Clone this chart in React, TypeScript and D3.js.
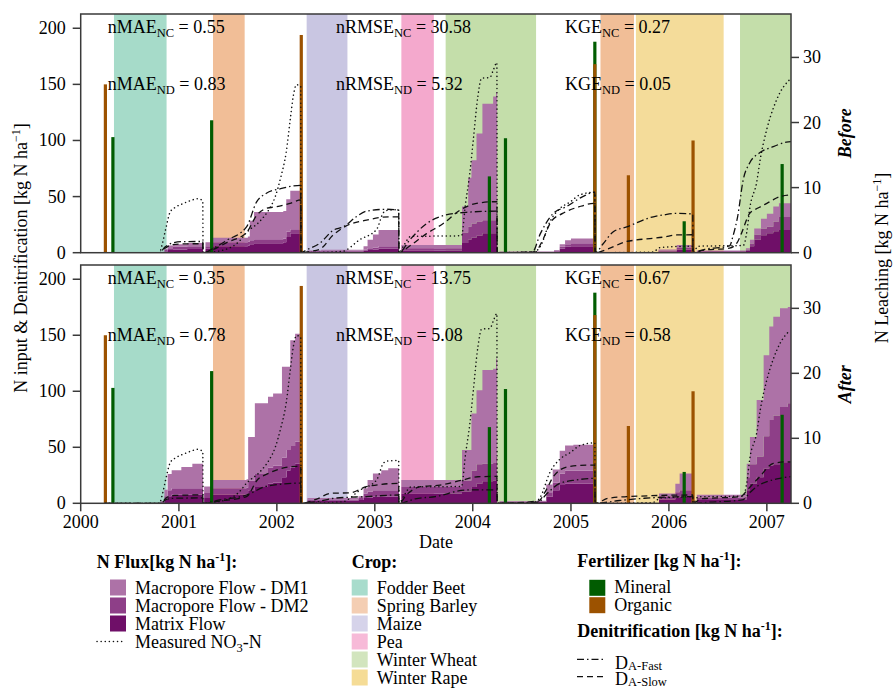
import React from "react";
import * as d3 from "d3";

const W = 893, H = 688;
const X0 = 80.7, X1 = 791;
const PANELS = [
  { top: 14, bottom: 252.7, name: "Before" },
  { top: 265, bottom: 503.3, name: "After" },
];

// ---------- DATA ----------
const yearTicks = ["2000", "2001", "2002", "2003", "2004", "2005", "2006", "2007"];
const leftTicks = [0, 50, 100, 150, 200];
const rightTicks = [0, 10, 20, 30];

const cropNames = ["Fodder Beet", "Spring Barley", "Maize", "Pea", "Winter Wheat", "Winter Rape"];
const cropBandColors = ["#a6dbc9", "#f1be97", "#c9c6e2", "#f4a9cd", "#c4deaa", "#f4dc9a"];
const cropLegendColors = ["#a8dccc", "#f4ceb3", "#d6d3ea", "#f7bad8", "#d2e5be", "#f5dc96"];
const cropPeriods: [string, string, string][] = [
  ["Fodder Beet", "2000-05-04", "2000-11-16"],
  ["Spring Barley", "2001-05-08", "2001-09-03"],
  ["Maize", "2002-04-22", "2002-09-21"],
  ["Pea", "2003-04-10", "2003-08-09"],
  ["Winter Wheat", "2003-09-22", "2004-08-24"],
  ["Spring Barley", "2005-04-21", "2005-08-24"],
  ["Winter Rape", "2005-08-31", "2006-07-24"],
  ["Winter Wheat", "2006-09-23", "2007-04-01"],
];

const fluxNames = ["Macropore Flow - DM1", "Macropore Flow - DM2", "Matrix Flow"];
const fluxColors = ["#ad72a7", "#8e3f88", "#6f0f68"];
const fertNames = ["Mineral", "Organic"];
const fertColors = ["#015c01", "#9c5200"];

const fertMineral: [string, number][] = [
  ["2000-04-30", 103], ["2001-05-03", 118], ["2004-03-03", 68], ["2004-05-02", 102],
  ["2005-03-31", 188], ["2006-02-27", 28], ["2007-02-27", 79],
];
const fertOrganic: [string, number][] = [
  ["2000-04-02", 150], ["2002-04-02", 194], ["2005-03-31", 168], ["2005-08-03", 69], ["2006-04-01", 100],
];

const measuredNO3: [string, number][] = [
  ["2000-04-01", 0], ["2000-10-20", 0], ["2000-11-01", 1.5], ["2000-11-12", 3.5], ["2000-11-30", 6.3],
  ["2000-12-20", 7.0], ["2001-01-20", 7.6], ["2001-02-20", 8.1], ["2001-03-10", 8.3], ["2001-03-31", 8.0],
  ["2001-04-01", 0], ["2001-06-15", 0.4], ["2001-08-15", 1.8], ["2001-09-10", 3.1], ["2001-10-29", 4.8],
  ["2001-12-05", 6.8], ["2001-12-25", 8.5], ["2002-01-15", 11.5], ["2002-02-05", 15.5], ["2002-02-20", 20.5],
  ["2002-03-03", 24], ["2002-03-15", 25.8], ["2002-03-31", 25.6],
  ["2002-04-01", 0], ["2002-09-01", 0.2], ["2002-11-06", 2.0], ["2003-01-08", 3.6], ["2003-02-01", 6.1],
  ["2003-02-15", 6.5], ["2003-03-31", 6.6],
  ["2003-04-01", 0], ["2003-04-20", 1.2], ["2003-05-15", 2.5], ["2003-11-20", 2.6], ["2003-12-05", 7.5],
  ["2003-12-21", 12.2], ["2004-01-03", 17.3], ["2004-01-20", 24.0], ["2004-02-03", 26.8], ["2004-03-05", 26.9],
  ["2004-03-17", 28.0], ["2004-03-31", 29.2],
  ["2004-04-01", 0], ["2004-08-20", 0.2], ["2004-09-08", 0.9], ["2004-10-15", 4.8], ["2004-11-21", 6.8],
  ["2004-12-29", 7.8], ["2005-02-04", 8.9], ["2005-03-31", 9.3],
  ["2005-04-01", 0], ["2005-11-01", 0.1], ["2005-12-01", 0.8], ["2006-03-31", 1.0],
  ["2006-04-01", 0], ["2006-04-20", 1.0], ["2006-10-05", 1.1], ["2006-10-18", 3.1], ["2006-10-30", 7.0],
  ["2006-11-24", 10.8], ["2006-12-08", 14.5], ["2007-01-01", 19], ["2007-01-25", 22.2], ["2007-02-19", 24.6],
  ["2007-03-25", 26.5],
];

const beforeFast: [string, number][] = [
  ["2000-04-01", 0], ["2000-10-20", 0], ["2000-11-10", 5], ["2000-12-05", 8.5], ["2001-01-10", 9.8], ["2001-03-31", 10],
  ["2001-04-01", 0], ["2001-05-10", 4], ["2001-06-28", 11], ["2001-09-10", 23], ["2001-10-17", 45], ["2001-11-23", 53],
  ["2002-01-15", 57], ["2002-03-31", 60],
  ["2002-04-01", 0], ["2002-04-21", 2.4], ["2002-06-10", 8.4], ["2002-07-30", 20], ["2002-09-05", 23], ["2002-10-24", 32],
  ["2002-12-01", 37], ["2003-02-14", 38.7], ["2003-03-31", 38],
  ["2003-04-01", 0], ["2003-05-11", 11.3], ["2003-07-13", 26], ["2003-09-13", 33], ["2003-12-08", 36], ["2004-03-31", 37],
  ["2004-04-01", 0], ["2004-08-10", 0.5], ["2004-09-09", 17], ["2004-10-27", 35], ["2004-12-15", 41], ["2005-02-14", 50],
  ["2005-03-31", 54],
  ["2005-04-01", 0], ["2005-05-01", 8], ["2005-06-08", 18.7], ["2005-07-28", 23], ["2005-11-04", 32], ["2005-12-11", 33.6],
  ["2006-01-30", 35], ["2006-03-31", 34.5],
  ["2006-04-01", 0], ["2006-05-15", 3], ["2006-08-15", 6], ["2006-08-28", 15], ["2006-09-14", 32], ["2006-10-05", 65],
  ["2006-10-29", 80], ["2006-12-05", 89], ["2007-01-25", 94.5], ["2007-03-15", 98.5], ["2007-04-01", 99],
];
const beforeSlow: [string, number][] = [
  ["2000-04-01", 0], ["2000-10-20", 0], ["2000-11-10", 4], ["2000-12-05", 7], ["2001-01-10", 7.8], ["2001-03-31", 8],
  ["2001-04-01", 0], ["2001-05-10", 3], ["2001-06-28", 9], ["2001-09-10", 18], ["2001-10-17", 33], ["2001-11-23", 39.5],
  ["2002-01-01", 41], ["2002-02-19", 44], ["2002-03-31", 47],
  ["2002-04-01", 0], ["2002-05-01", 1], ["2002-06-10", 3], ["2002-07-30", 15.8], ["2002-09-10", 23], ["2002-12-01", 29],
  ["2003-02-25", 32], ["2003-03-31", 32],
  ["2003-04-01", 0], ["2003-05-11", 6], ["2003-07-13", 17], ["2003-09-13", 26], ["2003-11-15", 38], ["2004-01-15", 44],
  ["2004-03-31", 45.5],
  ["2004-04-01", 0], ["2004-08-20", 0.5], ["2004-09-15", 10], ["2004-10-20", 28], ["2004-12-01", 35], ["2005-02-01", 41],
  ["2005-03-31", 44],
  ["2005-04-01", 0], ["2005-05-15", 3], ["2005-07-28", 10], ["2005-09-01", 11.3], ["2005-12-15", 14], ["2006-01-30", 15.8],
  ["2006-03-31", 16],
  ["2006-04-01", 0], ["2006-05-01", 2], ["2006-08-15", 4], ["2006-09-15", 10], ["2006-09-28", 17], ["2006-10-29", 35],
  ["2006-12-01", 40], ["2007-01-01", 44], ["2007-02-19", 50], ["2007-04-01", 51.5],
];
const afterFast: [string, number][] = [
  ["2000-04-01", 0], ["2000-10-25", 0], ["2000-11-15", 3.5], ["2000-12-15", 4.5], ["2001-03-31", 4.8],
  ["2001-04-01", 0], ["2001-06-01", 3], ["2001-09-10", 7.4], ["2001-11-20", 15], ["2002-01-15", 17], ["2002-03-31", 18],
  ["2002-04-01", 0], ["2002-06-01", 1.5], ["2002-08-01", 4.5], ["2002-12-01", 6], ["2003-03-31", 7.4],
  ["2003-04-01", 0], ["2003-06-01", 4], ["2003-08-15", 6], ["2003-12-08", 11.9], ["2004-03-31", 12],
  ["2004-04-01", 0], ["2004-09-01", 1], ["2004-10-01", 8], ["2004-11-20", 17.8], ["2005-01-20", 20.8], ["2005-03-31", 22.3],
  ["2005-04-01", 0], ["2005-07-01", 2.5], ["2005-10-01", 4.5], ["2006-03-31", 5.9],
  ["2006-04-01", 0], ["2006-06-01", 1], ["2006-10-01", 3], ["2006-11-01", 10], ["2006-12-01", 16], ["2007-01-01", 19.3],
  ["2007-02-19", 22.3], ["2007-04-01", 23.8],
];
const afterSlow: [string, number][] = [
  ["2000-04-01", 0], ["2000-10-25", 0], ["2000-11-15", 5], ["2000-12-15", 7], ["2001-03-31", 7.5],
  ["2001-04-01", 0], ["2001-06-01", 2], ["2001-09-10", 6], ["2001-10-20", 20.8], ["2001-12-01", 26.7], ["2002-02-20", 32.6],
  ["2002-03-31", 33],
  ["2002-04-01", 0], ["2002-06-01", 4], ["2002-07-20", 8.9], ["2002-10-01", 9.4], ["2002-12-01", 14.8], ["2003-03-31", 17.8],
  ["2003-04-01", 0], ["2003-05-01", 8], ["2003-06-20", 14.8], ["2003-09-01", 16.3], ["2003-11-25", 20.8], ["2004-01-20", 23.7],
  ["2004-03-31", 24],
  ["2004-04-01", 0], ["2004-09-01", 2], ["2004-10-01", 12], ["2004-10-27", 23.7], ["2004-12-20", 32.6], ["2005-03-01", 34.1],
  ["2005-03-31", 34],
  ["2005-04-01", 0], ["2005-05-20", 4.5], ["2005-07-28", 5.9], ["2006-03-31", 7.4],
  ["2006-04-01", 0], ["2006-05-01", 4], ["2006-09-25", 5.9], ["2006-10-20", 11.9], ["2006-12-05", 23.7], ["2007-01-25", 35.6],
  ["2007-03-15", 37], ["2007-04-01", 37],
];

// [date, matrix, DM2, DM1] (layer thickness)
const beforeFlux: [string, number, number, number][] = [
  ["2000-04-01", 0, 0, 0], ["2000-10-28", 0.05, 0.05, 0.05], ["2000-11-08", 0.2, 0.2, 0.2], ["2000-11-20", 0.4, 0.3, 0.4],
  ["2000-12-10", 0.5, 0.4, 0.4], ["2001-02-01", 0.55, 0.45, 0.5], ["2001-03-31", 0.55, 0.45, 0.5],
  ["2001-04-01", 0, 0, 0], ["2001-04-10", 0.6, 0.4, 0.6], ["2001-05-05", 1.0, 0.6, 0.7], ["2001-09-15", 1.1, 0.6, 0.8],
  ["2001-09-22", 1.3, 0.6, 3.0], ["2001-10-08", 1.45, 0.6, 4.2], ["2002-01-25", 1.6, 0.6, 4.2], ["2002-02-05", 2.4, 0.8, 5.0],
  ["2002-02-20", 3.0, 0.6, 5.9], ["2002-03-31", 3.0, 0.6, 5.9],
  ["2002-04-01", 0, 0, 0], ["2002-04-25", 0.15, 0.1, 0.1], ["2002-06-15", 0.2, 0.15, 0.1], ["2002-11-20", 0.3, 0.2, 0.5],
  ["2002-12-05", 0.4, 0.3, 1.3], ["2002-12-25", 0.5, 0.3, 2.0], ["2003-01-15", 0.6, 0.4, 2.5], ["2003-03-31", 0.6, 0.4, 2.5],
  ["2003-04-01", 0, 0, 0], ["2003-04-10", 0.3, 0.4, 0.5], ["2003-11-22", 1.5, 1.6, 4.0], ["2003-12-15", 2.0, 2.0, 7.5],
  ["2003-12-27", 2.3, 2.2, 9.7], ["2004-01-15", 2.6, 2.2, 13.5], ["2004-02-06", 3.0, 2.0, 17.9], ["2004-03-17", 3.0, 2.0, 19.0],
  ["2004-03-28", 3.0, 2.0, 19.7], ["2004-03-31", 3.0, 2.0, 19.7],
  ["2004-04-01", 0, 0, 0], ["2004-04-10", 0.1, 0.05, 0.05], ["2004-10-30", 0.2, 0.1, 0.1], ["2004-11-20", 0.6, 0.3, 0.4],
  ["2004-12-10", 0.9, 0.4, 0.6], ["2005-01-01", 1.0, 0.45, 0.75], ["2005-03-31", 1.0, 0.45, 0.75],
  ["2005-04-01", 0, 0, 0], ["2005-11-23", 0.2, 0.15, 0.15], ["2006-01-30", 0.5, 0.3, 0.4], ["2006-03-31", 0.5, 0.3, 0.4],
  ["2006-04-01", 0, 0, 0], ["2006-04-15", 0.15, 0.1, 0.1], ["2006-10-15", 0.3, 0.2, 0.2], ["2006-10-30", 1.0, 0.4, 0.6],
  ["2006-11-15", 2.0, 0.8, 0.9], ["2006-12-10", 2.7, 1.0, 1.5], ["2007-01-01", 3.0, 1.0, 2.0], ["2007-01-25", 3.3, 1.5, 2.3],
  ["2007-02-15", 3.5, 2.0, 2.1], ["2007-04-01", 3.5, 2.0, 2.1],
];
const afterFlux: [string, number, number, number][] = [
  ["2000-04-01", 0, 0, 0], ["2000-10-25", 0.1, 0.1, 0.1], ["2000-11-08", 0.6, 0.5, 1.0], ["2000-11-20", 1.1, 0.9, 2.5],
  ["2000-12-05", 1.3, 1.0, 2.8], ["2001-01-10", 1.3, 1.0, 3.3], ["2001-02-20", 1.3, 1.0, 3.8], ["2001-03-31", 1.3, 1.0, 3.8],
  ["2001-04-01", 0, 0, 0], ["2001-04-05", 0.8, 0.8, 1.0], ["2001-05-01", 1.3, 1.0, 1.3], ["2001-09-10", 1.4, 1.0, 1.3],
  ["2001-09-16", 2.0, 1.5, 6.7], ["2001-10-11", 2.5, 2.0, 10.9], ["2001-11-29", 3.0, 2.5, 10.9], ["2001-12-18", 3.2, 2.6, 11.1],
  ["2002-01-20", 4.0, 3.0, 14.0], ["2002-02-06", 5.0, 3.2, 12.8], ["2002-02-20", 5.5, 3.3, 16.3], ["2002-03-10", 6.1, 3.4, 16.6],
  ["2002-03-31", 6.1, 3.4, 16.6],
  ["2002-04-01", 0, 0, 0], ["2002-04-25", 0.4, 0.2, 0.2], ["2002-11-01", 0.5, 0.3, 0.3], ["2002-11-20", 0.8, 0.7, 0.8],
  ["2002-12-05", 0.9, 0.9, 1.8], ["2002-12-25", 1.0, 1.0, 2.6], ["2003-01-25", 1.0, 1.0, 3.1], ["2003-02-20", 1.0, 1.0, 3.4],
  ["2003-03-31", 1.0, 1.0, 3.4],
  ["2003-04-01", 0, 0, 0], ["2003-04-10", 1.5, 1.0, 1.1], ["2003-11-22", 1.8, 1.7, 4.7], ["2003-12-27", 2.5, 2.5, 8.8],
  ["2004-01-15", 3.0, 3.0, 11.4], ["2004-02-06", 3.4, 2.7, 14.4], ["2004-03-17", 3.5, 2.7, 14.5], ["2004-03-28", 3.6, 3.6, 15.1],
  ["2004-03-31", 3.6, 3.6, 15.1],
  ["2004-04-01", 0, 0, 0], ["2004-04-10", 0.15, 0.1, 0.1], ["2004-08-25", 0.2, 0.1, 0.1], ["2004-10-01", 1.0, 0.7, 1.2],
  ["2004-10-25", 2.0, 1.2, 2.0], ["2004-11-20", 2.8, 1.8, 3.5], ["2004-12-10", 3.0, 2.0, 3.9], ["2005-01-10", 3.0, 2.0, 4.0],
  ["2005-03-31", 3.0, 2.0, 4.0],
  ["2005-04-01", 0, 0, 0], ["2005-11-25", 0.6, 0.5, 0.4], ["2006-01-25", 0.9, 0.8, 1.3], ["2006-02-10", 1.0, 1.0, 2.6],
  ["2006-03-31", 1.0, 1.0, 2.6],
  ["2006-04-01", 0, 0, 0], ["2006-04-15", 0.5, 0.4, 0.4], ["2006-10-10", 0.6, 0.4, 0.5], ["2006-10-18", 2.0, 2.0, 2.1],
  ["2006-10-30", 3.0, 3.0, 4.2], ["2006-11-24", 4.0, 3.2, 8.7], ["2006-12-20", 5.3, 5.0, 12.5], ["2007-01-10", 5.8, 7.0, 14.4],
  ["2007-01-25", 6.0, 7.5, 15.2], ["2007-02-19", 6.3, 8.5, 15.2], ["2007-03-20", 6.4, 9.0, 14.8], ["2007-04-01", 6.4, 9.0, 14.8],
];

const statNames = ["nMAE", "nRMSE", "KGE"];
const statsNC = [[0.55, 30.58, 0.27], [0.35, 13.75, 0.67]];
const statsND = [[0.83, 5.32, 0.05], [0.78, 5.08, 0.58]];
const statX = [107.7, 336, 565];

// ---------- HELPERS ----------
const parse = d3.timeParse("%Y-%m-%d") as (s: string) => Date;
const x = d3.scaleTime().domain([parse("2000-01-01"), parse("2007-04-01")]).range([X0, X1]);
const FONT = "'Liberation Serif', 'Times New Roman', Times, serif";
const FRAME = "#3a3a3a";

function Panel({ idx }: { idx: number }) {
  const p = PANELS[idx];
  const yL = d3.scaleLinear().domain([0, 212.7]).range([p.bottom, p.top]);
  const yR = d3.scaleLinear().domain([0, 36.67]).range([p.bottom, p.top]);
  const flux = idx === 0 ? beforeFlux : afterFlux;
  const fast = idx === 0 ? beforeFast : afterFast;
  const slow = idx === 0 ? beforeSlow : afterSlow;
  const rows = flux.map((r) => ({ date: parse(r[0]), matrix: r[1], dm2: r[2], dm1: r[3] }));
  const stack = d3.stack<any>().keys(["matrix", "dm2", "dm1"])(rows);
  const area = d3
    .area<any>()
    .x((d) => x(d.data.date))
    .y0((d) => yR(d[0]))
    .y1((d) => yR(d[1]))
    .curve(d3.curveStepAfter);
  const layerColor = { matrix: fluxColors[2], dm2: fluxColors[1], dm1: fluxColors[0] } as any;
  const lineR = d3
    .line<[string, number]>()
    .x((d) => x(parse(d[0])))
    .y((d) => yR(d[1]))
    .curve(d3.curveMonotoneX);
  const lineL = d3
    .line<[string, number]>()
    .x((d) => x(parse(d[0])))
    .y((d) => yL(d[1]))
    .curve(d3.curveMonotoneX);
  const clipId = `clip${idx}`;
  const barW = 3.2;
  return (
    <g>
      <defs>
        <clipPath id={clipId}>
          <rect x={X0} y={p.top} width={X1 - X0} height={p.bottom - p.top} />
        </clipPath>
      </defs>
      <g clipPath={`url(#${clipId})`}>
        {cropPeriods.map(([name, s, e], i) => (
          <rect
            key={i}
            x={x(parse(s))}
            y={p.top}
            width={x(parse(e)) - x(parse(s))}
            height={p.bottom - p.top}
            fill={cropBandColors[cropNames.indexOf(name)]}
          />
        ))}
        {stack.map((layer: any) => (
          <path key={layer.key} d={area(layer) || ""} fill={layerColor[layer.key]} />
        ))}
        {fertMineral.map(([d, v], i) => (
          <rect key={"m" + i} x={x(parse(d)) - barW / 2} y={yL(v)} width={barW} height={yL(0) - yL(v)} fill={fertColors[0]} />
        ))}
        {fertOrganic.map(([d, v], i) => (
          <rect key={"o" + i} x={x(parse(d)) - barW / 2} y={yL(v)} width={barW} height={yL(0) - yL(v)} fill={fertColors[1]} />
        ))}
        <path d={lineR(measuredNO3) || ""} fill="none" stroke="#111" strokeWidth={1.5} strokeDasharray="0.1,4" strokeLinecap="round" />
        <path d={lineL(fast) || ""} fill="none" stroke="#111" strokeWidth={1.3} strokeDasharray="7,3,1.5,3" />
        <path d={lineL(slow) || ""} fill="none" stroke="#111" strokeWidth={1.3} strokeDasharray="6,4" />
      </g>
      <rect x={X0} y={p.top} width={X1 - X0} height={p.bottom - p.top} fill="none" stroke={FRAME} strokeWidth={1.5} />
      {leftTicks.map((t) => (
        <g key={"l" + t}>
          <line x1={X0 - 8} x2={X0} y1={yL(t)} y2={yL(t)} stroke={FRAME} strokeWidth={1.5} />
          <text x={X0 - 15} y={yL(t) + 6} textAnchor="end" fontSize={18}>{t}</text>
        </g>
      ))}
      {rightTicks.map((t) => (
        <g key={"r" + t}>
          <line x1={X1} x2={X1 + 8} y1={yR(t)} y2={yR(t)} stroke={FRAME} strokeWidth={1.5} />
          <text x={X1 + 12} y={yR(t) + 6} textAnchor="start" fontSize={18}>{t}</text>
        </g>
      ))}
      {statNames.map((n, i) => (
        <g key={n}>
          <text x={statX[i]} y={p.top + 19} fontSize={18}>
            {n}
            <tspan fontSize={12.5} dy={4}>NC</tspan>
            <tspan dy={-4}>{" = " + statsNC[idx][i].toFixed(2)}</tspan>
          </text>
          <text x={statX[i]} y={p.top + 76} fontSize={18}>
            {n}
            <tspan fontSize={12.5} dy={4}>ND</tspan>
            <tspan dy={-4}>{" = " + statsND[idx][i].toFixed(2)}</tspan>
          </text>
        </g>
      ))}
      <text
        transform={`translate(851,${(p.top + p.bottom) / 2}) rotate(-90)`}
        textAnchor="middle"
        fontSize={18}
        fontWeight="bold"
        fontStyle="italic"
      >
        {p.name}
      </text>
    </g>
  );
}

function Sup({ t }: { t: string }) {
  return (
    <>
      <tspan dy={-7} fontSize={12}>{t}</tspan>
      <tspan dy={7}>{"]"}</tspan>
    </>
  );
}

export default function App() {
  const pb = PANELS[1];
  const rowY = (i: number) => 593.5 + i * 18;
  return (
    <svg
      width={W}
      height={H}
      style={{ position: "absolute", left: 0, top: 0, background: "#fff", fontFamily: FONT }}
    >
      <rect x={0} y={0} width={W} height={H} fill="#fff" />
      <Panel idx={0} />
      <Panel idx={1} />
      {yearTicks.map((yr) => {
        const xx = x(parse(yr + "-01-01"));
        return (
          <g key={yr}>
            <line x1={xx} x2={xx} y1={pb.bottom} y2={pb.bottom + 8} stroke={FRAME} strokeWidth={1.5} />
            <text x={xx} y={528} textAnchor="middle" fontSize={18}>{yr}</text>
          </g>
        );
      })}
      <text x={436} y={548} textAnchor="middle" fontSize={18}>Date</text>
      <text transform="translate(27,258) rotate(-90)" textAnchor="middle" fontSize={18}>
        N input &amp; Denitrification [kg N ha<Sup t="−1" />
      </text>
      <text transform="translate(888,258) rotate(-90)" textAnchor="middle" fontSize={18}>
        N Leaching [kg N ha<Sup t="−1" />
      </text>

      {/* N Flux legend */}
      <text x={96.7} y={568} fontSize={18} fontWeight="bold">
        N Flux[kg N ha<tspan dy={-7} fontSize={12}>-1</tspan><tspan dy={7}>]:</tspan>
      </text>
      {fluxNames.map((n, i) => (
        <g key={n}>
          <rect x={110} y={rowY(i) - 14} width={16} height={16} fill={fluxColors[i]} />
          <text x={135} y={rowY(i)} fontSize={18}>{n}</text>
        </g>
      ))}
      <line x1={97} x2={122} y1={rowY(3) - 6} y2={rowY(3) - 6} stroke="#111" strokeWidth={1.5} strokeDasharray="0.1,4" strokeLinecap="round" />
      <text x={135} y={rowY(3)} fontSize={18}>
        Measured NO<tspan dy={4} fontSize={12.5}>3</tspan><tspan dy={-4}>-N</tspan>
      </text>

      {/* Crop legend */}
      <text x={351.7} y={568} fontSize={18} fontWeight="bold">Crop:</text>
      {cropNames.map((n, i) => (
        <g key={n}>
          <rect x={351.7} y={rowY(i) - 14} width={16} height={16} fill={cropLegendColors[i]} />
          <text x={376.7} y={rowY(i)} fontSize={18}>{n}</text>
        </g>
      ))}

      {/* Fertilizer legend */}
      <text x={577.3} y={567} fontSize={18} fontWeight="bold">
        Fertilizer [kg N ha<tspan dy={-7} fontSize={12}>-1</tspan><tspan dy={7}>]:</tspan>
      </text>
      {fertNames.map((n, i) => (
        <g key={n}>
          <rect x={589.3} y={593.3 + i * 17.4 - 13.5} width={16} height={16} fill={fertColors[i]} />
          <text x={614.3} y={593.3 + i * 17.4} fontSize={18}>{n}</text>
        </g>
      ))}
      <text x={577.3} y={637.3} fontSize={18} fontWeight="bold">
        Denitrification [kg N ha<tspan dy={-7} fontSize={12}>-1</tspan><tspan dy={7}>]:</tspan>
      </text>
      <line x1={577} x2={606} y1={659.3} y2={659.3} stroke="#111" strokeWidth={1.3} strokeDasharray="7,3,1.5,3" />
      <text x={615} y={668.5} fontSize={18}>
        D<tspan dy={1} fontSize={12.5}>A-Fast</tspan>
      </text>
      <line x1={577} x2={606} y1={676.7} y2={676.7} stroke="#111" strokeWidth={1.3} strokeDasharray="6,4" />
      <text x={615} y={685} fontSize={18}>
        D<tspan dy={1} fontSize={12.5}>A-Slow</tspan>
      </text>
    </svg>
  );
}
